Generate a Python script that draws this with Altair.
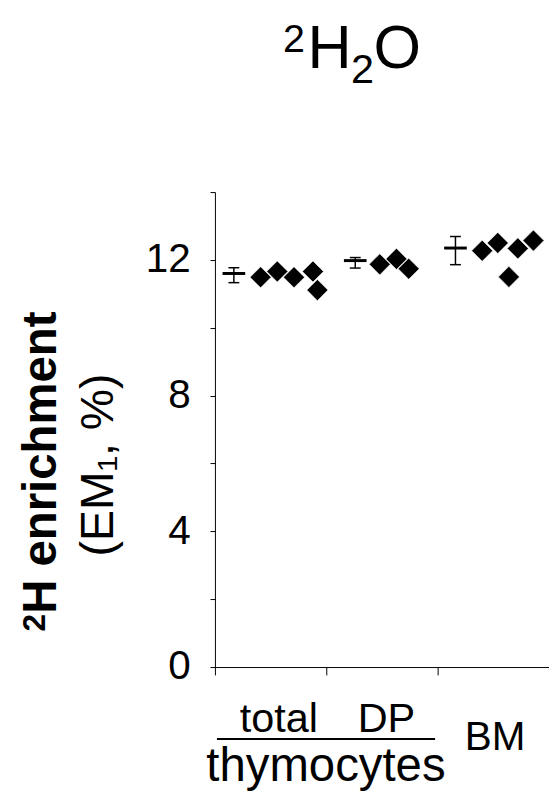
import altair as alt
import pandas as pd

# ---------------- data ----------------
groups = ["total", "DP", "BM"]
err_x = [0.17, 1.26, 2.16]
err_mean = [11.60, 11.98, 12.35]
err_low = [11.33, 11.76, 11.86]
err_high = [11.77, 12.07, 12.69]

pt_group = ["total"] * 5 + ["DP"] * 3 + ["BM"] * 5
pt_x = [0.41, 0.56, 0.71, 0.88, 0.92, 1.48, 1.63, 1.74, 2.40, 2.54, 2.64, 2.72, 2.86]
pt_y = [11.49, 11.66, 11.49, 11.66, 11.11, 11.87, 12.03, 11.74, 12.27, 12.50, 11.50, 12.34, 12.57]

x_ticks = [0, 1, 2, 3]
y_ticks = [0, 2, 4, 6, 8, 10, 12, 14]

cat_labels = ["total", "DP"]
cat_label_x = [0.574, 1.54]
bm_label = ["BM"]
bm_label_x = [2.515]
sub_label = ["thymocytes"]
sub_label_x = [0.997]
bracket_x = [0.018]
bracket_x2 = [1.977]

title_parts = ["2", "H", "2", "O"]
ytitle_sup = "2"
ytitle_bold = "H enrichment"
ytitle_norm = "(EM₁, %)"

# ---------------- layout ----------------
W, H = 339, 482
FONT = "Liberation Sans"
xs = alt.Scale(domain=[0, 3], nice=False, zero=False)
ys = alt.Scale(domain=[0, 14], nice=False)

x_axis = alt.Axis(values=x_ticks, labels=False, tickSize=8, grid=False, title=None,
                  domainColor="black", tickColor="black", domainWidth=1, tickWidth=1)
y_axis = alt.Axis(values=y_ticks, grid=False, tickSize=5, title=None,
                  labelExpr="datum.value % 4 == 0 ? datum.label : ''",
                  labelFont=FONT, labelFontSize=41, labelColor="black",
                  labelPadding=20, domainColor="black", tickColor="black",
                  domainWidth=1, tickWidth=1)


def X(field):
    return alt.X(field, scale=xs, axis=x_axis, title=None)


def Y(field):
    return alt.Y(field, scale=ys, axis=y_axis, title=None)


pts = pd.DataFrame({"group": pt_group, "x": pt_x, "y": pt_y})
err = pd.DataFrame({"group": groups, "x": err_x, "mean": err_mean, "low": err_low, "high": err_high})
caps = pd.DataFrame({"x": err_x * 2, "y": err_low + err_high})

points = alt.Chart(pts).mark_point(
    shape="diamond", filled=True, size=460, color="black", opacity=1,
    stroke="white", strokeWidth=0.6
).encode(x=X("x:Q"), y=Y("y:Q"))

whisk = alt.Chart(err).mark_rule(color="black", strokeWidth=1.5).encode(
    x=X("x:Q"), y=Y("low:Q"), y2="high:Q"
)
mean_bar = alt.Chart(err).mark_tick(orient="horizontal", size=23, thickness=3, color="black", opacity=1).encode(
    x=X("x:Q"), y=Y("mean:Q")
)
cap_ticks = alt.Chart(caps).mark_tick(orient="horizontal", size=11, thickness=1.5, color="black", opacity=1).encode(
    x=X("x:Q"), y=Y("y:Q")
)

lab1 = alt.Chart(pd.DataFrame({"label": cat_labels, "x": cat_label_x})).mark_text(
    font=FONT, fontSize=42, align="center", baseline="alphabetic", color="black"
).encode(x=X("x:Q"), y=alt.value(548), text="label:N")

lab2 = alt.Chart(pd.DataFrame({"label": bm_label, "x": bm_label_x})).mark_text(
    font=FONT, fontSize=41, align="center", baseline="alphabetic", color="black"
).encode(x=X("x:Q"), y=alt.value(566), text="label:N")

lab3 = alt.Chart(pd.DataFrame({"label": sub_label, "x": sub_label_x})).mark_text(
    font=FONT, fontSize=48, align="center", baseline="alphabetic", color="black"
).encode(x=X("x:Q"), y=alt.value(598), text="label:N")

bracket = alt.Chart(pd.DataFrame({"x0": bracket_x, "x1": bracket_x2})).mark_rule(
    color="black", strokeWidth=2
).encode(x=X("x0:Q"), x2="x1:Q", y=alt.value(555))


def piece(txt, size, px, py, weight="normal", angle=0, align="left"):
    return alt.Chart(pd.DataFrame({"t": [txt]})).mark_text(
        font=FONT, fontSize=size, fontWeight=weight, angle=angle, align=align,
        baseline="alphabetic", color="black"
    ).encode(x=alt.value(px), y=alt.value(py), text="t:N")


t_sup = piece(title_parts[0], 40, 69, -142)
t_h = piece(title_parts[1], 62, 94, -126)
t_sub = piece(title_parts[2], 42, 138, -111)
t_o = piece(title_parts[3], 62, 161, -126)

yt_sup = piece(ytitle_sup, 32, -172, 446, weight="bold", angle=270)
yt1 = piece(ytitle_bold, 48, -161, 428, weight="bold", angle=270)
yt2 = piece(ytitle_norm, 47, -103, 277, angle=270, align="center")

chart = alt.layer(
    points, whisk, mean_bar, cap_ticks, lab1, lab2, lab3, bracket,
    t_sup, t_h, t_sub, t_o, yt_sup, yt1, yt2
).properties(
    width=W, height=H,
    autosize=alt.AutoSizeParams(type="none"),
    padding={"left": 210, "top": 181, "right": 0, "bottom": 120},
    background="white",
).configure_view(stroke=None)

chart.save("out.html", embed_options={"renderer": "svg", "actions": False})
